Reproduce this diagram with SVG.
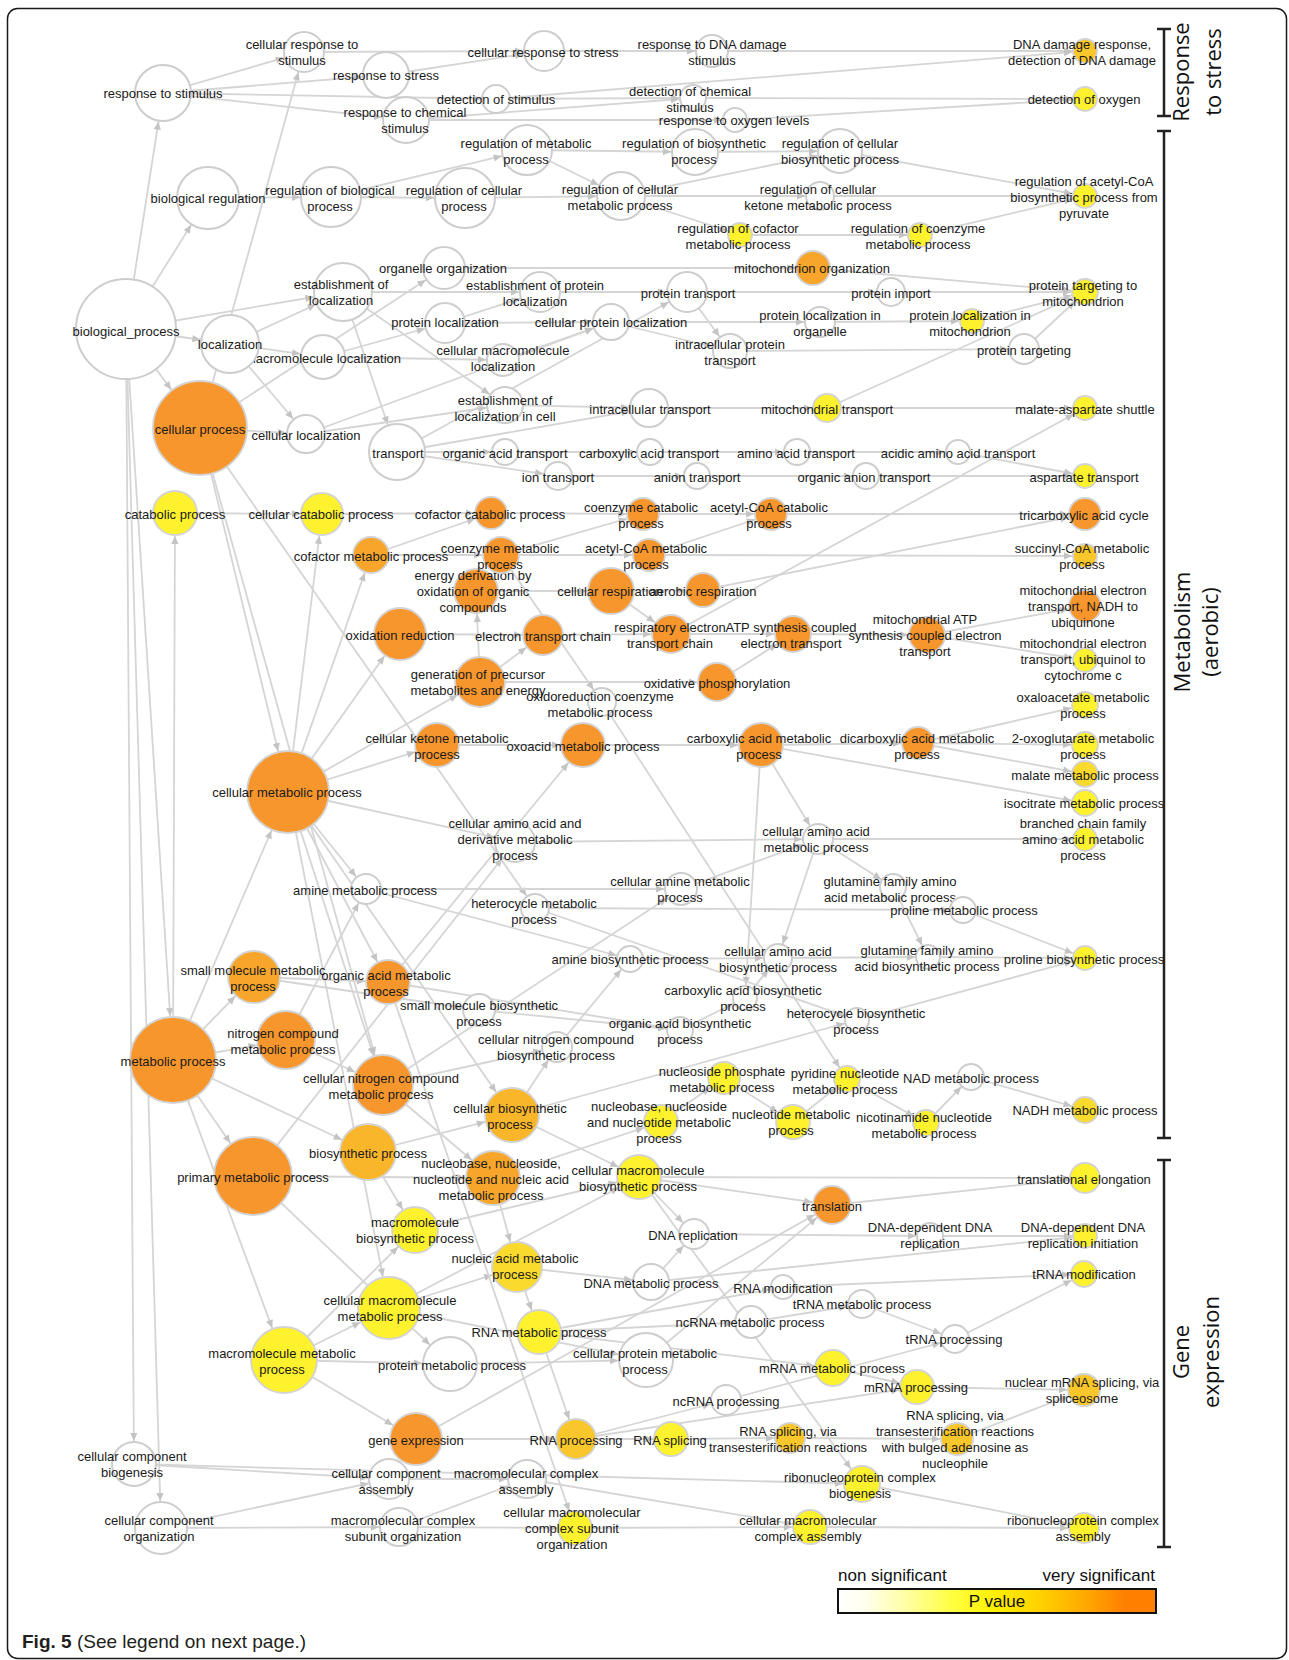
<svg xmlns="http://www.w3.org/2000/svg" width="1289" height="1660" viewBox="0 0 1289 1660">
<style>
.e line{stroke:#d5d5d5;stroke-width:1.8}
.w{fill:#fff;stroke:#cdcdcd;stroke-width:2}
.o,.lo,.g2,.g,.gy,.y{stroke:#d3d3d3;stroke-width:1.8}
.o{fill:#f7962d}.lo{fill:#f8a62b}.g2{fill:#fab62a}.g{fill:#f9c62c}.gy{fill:#fada2c}.y{fill:#fef12e}
text{font-family:'Liberation Sans',Arial,sans-serif;font-size:13px;fill:#1a1a1a;text-anchor:middle}
.br{stroke:#222;stroke-width:2.5;fill:none}
.bt{font-family:'Open Sans','Liberation Sans',sans-serif;font-size:22px;fill:#111}
.lg{font-size:17px;fill:#111}
</style>
<defs>
<path id="ah" d="M-8,-3.6L0,0L-8,3.6z" fill="#c4c4c4"/>
<marker id="a12" markerUnits="userSpaceOnUse" orient="auto" refX="13" refY="0" markerWidth="10" markerHeight="10" overflow="visible"><use href="#ah"/></marker>
<marker id="a13" markerUnits="userSpaceOnUse" orient="auto" refX="14" refY="0" markerWidth="10" markerHeight="10" overflow="visible"><use href="#ah"/></marker>
<marker id="a14" markerUnits="userSpaceOnUse" orient="auto" refX="15" refY="0" markerWidth="10" markerHeight="10" overflow="visible"><use href="#ah"/></marker>
<marker id="a15" markerUnits="userSpaceOnUse" orient="auto" refX="16" refY="0" markerWidth="10" markerHeight="10" overflow="visible"><use href="#ah"/></marker>
<marker id="a16" markerUnits="userSpaceOnUse" orient="auto" refX="17" refY="0" markerWidth="10" markerHeight="10" overflow="visible"><use href="#ah"/></marker>
<marker id="a17" markerUnits="userSpaceOnUse" orient="auto" refX="18" refY="0" markerWidth="10" markerHeight="10" overflow="visible"><use href="#ah"/></marker>
<marker id="a18" markerUnits="userSpaceOnUse" orient="auto" refX="19" refY="0" markerWidth="10" markerHeight="10" overflow="visible"><use href="#ah"/></marker>
<marker id="a19" markerUnits="userSpaceOnUse" orient="auto" refX="20" refY="0" markerWidth="10" markerHeight="10" overflow="visible"><use href="#ah"/></marker>
<marker id="a20" markerUnits="userSpaceOnUse" orient="auto" refX="21" refY="0" markerWidth="10" markerHeight="10" overflow="visible"><use href="#ah"/></marker>
<marker id="a21" markerUnits="userSpaceOnUse" orient="auto" refX="22" refY="0" markerWidth="10" markerHeight="10" overflow="visible"><use href="#ah"/></marker>
<marker id="a22" markerUnits="userSpaceOnUse" orient="auto" refX="23" refY="0" markerWidth="10" markerHeight="10" overflow="visible"><use href="#ah"/></marker>
<marker id="a23" markerUnits="userSpaceOnUse" orient="auto" refX="24" refY="0" markerWidth="10" markerHeight="10" overflow="visible"><use href="#ah"/></marker>
<marker id="a24" markerUnits="userSpaceOnUse" orient="auto" refX="25" refY="0" markerWidth="10" markerHeight="10" overflow="visible"><use href="#ah"/></marker>
<marker id="a25" markerUnits="userSpaceOnUse" orient="auto" refX="26" refY="0" markerWidth="10" markerHeight="10" overflow="visible"><use href="#ah"/></marker>
<marker id="a26" markerUnits="userSpaceOnUse" orient="auto" refX="27" refY="0" markerWidth="10" markerHeight="10" overflow="visible"><use href="#ah"/></marker>
<marker id="a27" markerUnits="userSpaceOnUse" orient="auto" refX="28" refY="0" markerWidth="10" markerHeight="10" overflow="visible"><use href="#ah"/></marker>
<marker id="a28" markerUnits="userSpaceOnUse" orient="auto" refX="29" refY="0" markerWidth="10" markerHeight="10" overflow="visible"><use href="#ah"/></marker>
<marker id="a29" markerUnits="userSpaceOnUse" orient="auto" refX="30" refY="0" markerWidth="10" markerHeight="10" overflow="visible"><use href="#ah"/></marker>
<marker id="a30" markerUnits="userSpaceOnUse" orient="auto" refX="31" refY="0" markerWidth="10" markerHeight="10" overflow="visible"><use href="#ah"/></marker>
<marker id="a31" markerUnits="userSpaceOnUse" orient="auto" refX="32" refY="0" markerWidth="10" markerHeight="10" overflow="visible"><use href="#ah"/></marker>
<marker id="a33" markerUnits="userSpaceOnUse" orient="auto" refX="34" refY="0" markerWidth="10" markerHeight="10" overflow="visible"><use href="#ah"/></marker>
<marker id="a39" markerUnits="userSpaceOnUse" orient="auto" refX="40" refY="0" markerWidth="10" markerHeight="10" overflow="visible"><use href="#ah"/></marker>
<marker id="a41" markerUnits="userSpaceOnUse" orient="auto" refX="42" refY="0" markerWidth="10" markerHeight="10" overflow="visible"><use href="#ah"/></marker>
<marker id="a43" markerUnits="userSpaceOnUse" orient="auto" refX="44" refY="0" markerWidth="10" markerHeight="10" overflow="visible"><use href="#ah"/></marker>
<marker id="a47" markerUnits="userSpaceOnUse" orient="auto" refX="48" refY="0" markerWidth="10" markerHeight="10" overflow="visible"><use href="#ah"/></marker>
<linearGradient id="pv" x1="0" y1="0" x2="1" y2="0">
<stop offset="0" stop-color="#ffffff"/><stop offset="0.08" stop-color="#fffff0"/><stop offset="0.22" stop-color="#ffffa0"/><stop offset="0.36" stop-color="#ffff40"/><stop offset="0.5" stop-color="#ffee00"/><stop offset="0.64" stop-color="#ffd000"/><stop offset="0.79" stop-color="#ffa500"/><stop offset="0.9" stop-color="#ff8000"/><stop offset="1" stop-color="#ff7f00"/>
</linearGradient>
</defs>
<rect x="7.5" y="8.5" width="1279" height="1650" rx="10" fill="#fff" stroke="#1a1a1a" stroke-width="1.5"/>
<g id="edges" class="e">
<line x1="163" y1="93" x2="304" y2="52" marker-end="url(#a20)"/>
<line x1="163" y1="93" x2="386" y2="75" marker-end="url(#a23)"/>
<line x1="163" y1="93" x2="496" y2="99" marker-end="url(#a14)"/>
<line x1="163" y1="93" x2="406" y2="120" marker-end="url(#a23)"/>
<line x1="304" y1="52" x2="544" y2="51" marker-end="url(#a20)"/>
<line x1="386" y1="75" x2="544" y2="51" marker-end="url(#a20)"/>
<line x1="544" y1="51" x2="712" y2="51" marker-end="url(#a16)"/>
<line x1="712" y1="51" x2="1085" y2="51" marker-end="url(#a12)"/>
<line x1="496" y1="99" x2="1085" y2="51" marker-end="url(#a12)"/>
<line x1="496" y1="99" x2="693" y2="98" marker-end="url(#a13)"/>
<line x1="406" y1="120" x2="693" y2="98" marker-end="url(#a13)"/>
<line x1="406" y1="120" x2="735" y2="120" marker-end="url(#a12)"/>
<line x1="693" y1="98" x2="1085" y2="99" marker-end="url(#a12)"/>
<line x1="735" y1="120" x2="1085" y2="99" marker-end="url(#a12)"/>
<line x1="126" y1="329" x2="208" y2="198" marker-end="url(#a31)"/>
<line x1="208" y1="198" x2="331" y2="197" marker-end="url(#a30)"/>
<line x1="331" y1="197" x2="465" y2="198" marker-end="url(#a30)"/>
<line x1="331" y1="197" x2="527" y2="150" marker-end="url(#a25)"/>
<line x1="465" y1="198" x2="621" y2="196" marker-end="url(#a24)"/>
<line x1="527" y1="150" x2="621" y2="196" marker-end="url(#a24)"/>
<line x1="527" y1="150" x2="695" y2="152" marker-end="url(#a23)"/>
<line x1="695" y1="152" x2="840" y2="151" marker-end="url(#a22)"/>
<line x1="621" y1="196" x2="840" y2="151" marker-end="url(#a22)"/>
<line x1="621" y1="196" x2="820" y2="196" marker-end="url(#a14)"/>
<line x1="621" y1="196" x2="740" y2="235" marker-end="url(#a12)"/>
<line x1="840" y1="151" x2="1085" y2="196" marker-end="url(#a12)"/>
<line x1="820" y1="196" x2="1085" y2="196" marker-end="url(#a12)"/>
<line x1="740" y1="235" x2="920" y2="235" marker-end="url(#a12)"/>
<line x1="920" y1="235" x2="1085" y2="196" marker-end="url(#a12)"/>
<line x1="126" y1="329" x2="163" y2="93" marker-end="url(#a28)"/>
<line x1="126" y1="329" x2="343" y2="292" marker-end="url(#a29)"/>
<line x1="126" y1="329" x2="230" y2="344" marker-end="url(#a29)"/>
<line x1="126" y1="329" x2="200" y2="428" marker-end="url(#a47)"/>
<line x1="126" y1="329" x2="173" y2="1060" marker-end="url(#a43)"/>
<line x1="126" y1="329" x2="134" y2="1464" marker-end="url(#a22)"/>
<line x1="126" y1="329" x2="161" y2="1528" marker-end="url(#a26)"/>
<line x1="230" y1="344" x2="343" y2="292" marker-end="url(#a29)"/>
<line x1="230" y1="344" x2="323" y2="357" marker-end="url(#a22)"/>
<line x1="230" y1="344" x2="306" y2="434" marker-end="url(#a19)"/>
<line x1="200" y1="428" x2="444" y2="268" marker-end="url(#a21)"/>
<line x1="200" y1="428" x2="304" y2="52" marker-end="url(#a20)"/>
<line x1="200" y1="428" x2="306" y2="434" marker-end="url(#a19)"/>
<line x1="343" y1="292" x2="540" y2="292" marker-end="url(#a20)"/>
<line x1="343" y1="292" x2="397" y2="452" marker-end="url(#a28)"/>
<line x1="343" y1="292" x2="505" y2="405" marker-end="url(#a18)"/>
<line x1="323" y1="357" x2="445" y2="323" marker-end="url(#a20)"/>
<line x1="323" y1="357" x2="503" y2="360" marker-end="url(#a16)"/>
<line x1="445" y1="323" x2="611" y2="322" marker-end="url(#a18)"/>
<line x1="445" y1="323" x2="540" y2="292" marker-end="url(#a20)"/>
<line x1="540" y1="292" x2="687" y2="292" marker-end="url(#a20)"/>
<line x1="687" y1="292" x2="891" y2="292" marker-end="url(#a14)"/>
<line x1="891" y1="292" x2="1085" y2="292" marker-end="url(#a13)"/>
<line x1="444" y1="268" x2="813" y2="268" marker-end="url(#a17)"/>
<line x1="813" y1="268" x2="1085" y2="292" marker-end="url(#a13)"/>
<line x1="503" y1="360" x2="611" y2="322" marker-end="url(#a18)"/>
<line x1="306" y1="434" x2="611" y2="322" marker-end="url(#a18)"/>
<line x1="611" y1="322" x2="730" y2="351" marker-end="url(#a17)"/>
<line x1="687" y1="292" x2="730" y2="351" marker-end="url(#a17)"/>
<line x1="611" y1="322" x2="820" y2="322" marker-end="url(#a15)"/>
<line x1="820" y1="322" x2="972" y2="321" marker-end="url(#a12)"/>
<line x1="972" y1="321" x2="1085" y2="292" marker-end="url(#a13)"/>
<line x1="730" y1="351" x2="1024" y2="349" marker-end="url(#a15)"/>
<line x1="1024" y1="349" x2="1085" y2="292" marker-end="url(#a13)"/>
<line x1="306" y1="434" x2="505" y2="405" marker-end="url(#a18)"/>
<line x1="505" y1="405" x2="649" y2="408" marker-end="url(#a19)"/>
<line x1="397" y1="452" x2="649" y2="408" marker-end="url(#a19)"/>
<line x1="649" y1="408" x2="827" y2="408" marker-end="url(#a14)"/>
<line x1="827" y1="408" x2="1085" y2="408" marker-end="url(#a12)"/>
<line x1="827" y1="408" x2="1085" y2="292" marker-end="url(#a13)"/>
<line x1="397" y1="452" x2="687" y2="292" marker-end="url(#a20)"/>
<line x1="397" y1="452" x2="505" y2="452" marker-end="url(#a13)"/>
<line x1="505" y1="452" x2="650" y2="452" marker-end="url(#a13)"/>
<line x1="650" y1="452" x2="797" y2="452" marker-end="url(#a13)"/>
<line x1="797" y1="452" x2="958" y2="452" marker-end="url(#a12)"/>
<line x1="958" y1="452" x2="1085" y2="476" marker-end="url(#a12)"/>
<line x1="397" y1="452" x2="558" y2="476" marker-end="url(#a14)"/>
<line x1="558" y1="476" x2="697" y2="476" marker-end="url(#a13)"/>
<line x1="697" y1="476" x2="866" y2="476" marker-end="url(#a13)"/>
<line x1="866" y1="476" x2="1085" y2="476" marker-end="url(#a12)"/>
<line x1="173" y1="1060" x2="175" y2="513" marker-end="url(#a22)"/>
<line x1="175" y1="513" x2="322" y2="514" marker-end="url(#a21)"/>
<line x1="288" y1="792" x2="322" y2="514" marker-end="url(#a21)"/>
<line x1="322" y1="514" x2="491" y2="513" marker-end="url(#a16)"/>
<line x1="371" y1="555" x2="491" y2="513" marker-end="url(#a16)"/>
<line x1="491" y1="513" x2="643" y2="514" marker-end="url(#a16)"/>
<line x1="643" y1="514" x2="771" y2="514" marker-end="url(#a16)"/>
<line x1="771" y1="514" x2="1085" y2="514" marker-end="url(#a16)"/>
<line x1="288" y1="792" x2="371" y2="555" marker-end="url(#a18)"/>
<line x1="371" y1="555" x2="501" y2="555" marker-end="url(#a18)"/>
<line x1="501" y1="555" x2="643" y2="514" marker-end="url(#a16)"/>
<line x1="501" y1="555" x2="649" y2="555" marker-end="url(#a16)"/>
<line x1="649" y1="555" x2="771" y2="514" marker-end="url(#a16)"/>
<line x1="649" y1="555" x2="1085" y2="556" marker-end="url(#a12)"/>
<line x1="288" y1="792" x2="400" y2="634" marker-end="url(#a26)"/>
<line x1="288" y1="792" x2="437" y2="745" marker-end="url(#a22)"/>
<line x1="288" y1="792" x2="480" y2="682" marker-end="url(#a25)"/>
<line x1="480" y1="682" x2="476" y2="591" marker-end="url(#a22)"/>
<line x1="480" y1="682" x2="543" y2="635" marker-end="url(#a20)"/>
<line x1="480" y1="682" x2="717" y2="682" marker-end="url(#a19)"/>
<line x1="476" y1="591" x2="611" y2="591" marker-end="url(#a23)"/>
<line x1="611" y1="591" x2="703" y2="590" marker-end="url(#a17)"/>
<line x1="611" y1="591" x2="671" y2="634" marker-end="url(#a19)"/>
<line x1="400" y1="634" x2="543" y2="635" marker-end="url(#a20)"/>
<line x1="543" y1="635" x2="671" y2="634" marker-end="url(#a19)"/>
<line x1="671" y1="634" x2="793" y2="634" marker-end="url(#a18)"/>
<line x1="793" y1="634" x2="927" y2="635" marker-end="url(#a18)"/>
<line x1="717" y1="682" x2="793" y2="634" marker-end="url(#a18)"/>
<line x1="927" y1="635" x2="1085" y2="606" marker-end="url(#a16)"/>
<line x1="927" y1="635" x2="1085" y2="660" marker-end="url(#a12)"/>
<line x1="703" y1="590" x2="1085" y2="514" marker-end="url(#a16)"/>
<line x1="671" y1="634" x2="1085" y2="408" marker-end="url(#a12)"/>
<line x1="501" y1="555" x2="602" y2="702" marker-end="url(#a14)"/>
<line x1="602" y1="702" x2="847" y2="1079" marker-end="url(#a13)"/>
<line x1="437" y1="745" x2="583" y2="745" marker-end="url(#a22)"/>
<line x1="583" y1="745" x2="761" y2="745" marker-end="url(#a22)"/>
<line x1="761" y1="745" x2="918" y2="743" marker-end="url(#a16)"/>
<line x1="918" y1="743" x2="1085" y2="705" marker-end="url(#a13)"/>
<line x1="918" y1="743" x2="1085" y2="745" marker-end="url(#a13)"/>
<line x1="918" y1="743" x2="1085" y2="774" marker-end="url(#a13)"/>
<line x1="761" y1="745" x2="1085" y2="803" marker-end="url(#a13)"/>
<line x1="761" y1="745" x2="818" y2="839" marker-end="url(#a15)"/>
<line x1="761" y1="745" x2="745" y2="998" marker-end="url(#a12)"/>
<line x1="388" y1="982" x2="583" y2="745" marker-end="url(#a22)"/>
<line x1="173" y1="1060" x2="254" y2="977" marker-end="url(#a26)"/>
<line x1="173" y1="1060" x2="286" y2="1040" marker-end="url(#a29)"/>
<line x1="173" y1="1060" x2="253" y2="1176" marker-end="url(#a39)"/>
<line x1="173" y1="1060" x2="368" y2="1152" marker-end="url(#a28)"/>
<line x1="173" y1="1060" x2="288" y2="792" marker-end="url(#a41)"/>
<line x1="173" y1="1060" x2="284" y2="1360" marker-end="url(#a33)"/>
<line x1="288" y1="792" x2="388" y2="982" marker-end="url(#a22)"/>
<line x1="288" y1="792" x2="383" y2="1085" marker-end="url(#a30)"/>
<line x1="288" y1="792" x2="366" y2="889" marker-end="url(#a15)"/>
<line x1="288" y1="792" x2="515" y2="842" marker-end="url(#a20)"/>
<line x1="288" y1="792" x2="512" y2="1115" marker-end="url(#a27)"/>
<line x1="288" y1="792" x2="389" y2="1308" marker-end="url(#a31)"/>
<line x1="200" y1="428" x2="288" y2="792" marker-end="url(#a41)"/>
<line x1="200" y1="428" x2="383" y2="1085" marker-end="url(#a30)"/>
<line x1="200" y1="428" x2="535" y2="908" marker-end="url(#a14)"/>
<line x1="286" y1="1040" x2="366" y2="889" marker-end="url(#a15)"/>
<line x1="286" y1="1040" x2="383" y2="1085" marker-end="url(#a30)"/>
<line x1="366" y1="889" x2="681" y2="889" marker-end="url(#a16)"/>
<line x1="366" y1="889" x2="630" y2="959" marker-end="url(#a13)"/>
<line x1="681" y1="889" x2="818" y2="839" marker-end="url(#a15)"/>
<line x1="515" y1="842" x2="818" y2="839" marker-end="url(#a15)"/>
<line x1="818" y1="839" x2="1085" y2="839" marker-end="url(#a12)"/>
<line x1="818" y1="839" x2="893" y2="887" marker-end="url(#a13)"/>
<line x1="818" y1="839" x2="778" y2="958" marker-end="url(#a14)"/>
<line x1="535" y1="908" x2="963" y2="910" marker-end="url(#a13)"/>
<line x1="893" y1="887" x2="928" y2="957" marker-end="url(#a12)"/>
<line x1="963" y1="910" x2="1085" y2="958" marker-end="url(#a12)"/>
<line x1="928" y1="957" x2="1085" y2="958" marker-end="url(#a12)"/>
<line x1="778" y1="958" x2="928" y2="957" marker-end="url(#a12)"/>
<line x1="630" y1="959" x2="778" y2="958" marker-end="url(#a14)"/>
<line x1="535" y1="908" x2="857" y2="1020" marker-end="url(#a12)"/>
<line x1="857" y1="1020" x2="1085" y2="958" marker-end="url(#a12)"/>
<line x1="512" y1="1115" x2="857" y2="1020" marker-end="url(#a12)"/>
<line x1="254" y1="977" x2="388" y2="982" marker-end="url(#a22)"/>
<line x1="254" y1="977" x2="479" y2="1010" marker-end="url(#a16)"/>
<line x1="479" y1="1010" x2="680" y2="1030" marker-end="url(#a13)"/>
<line x1="388" y1="982" x2="680" y2="1030" marker-end="url(#a13)"/>
<line x1="680" y1="1030" x2="745" y2="998" marker-end="url(#a12)"/>
<line x1="745" y1="998" x2="778" y2="958" marker-end="url(#a14)"/>
<line x1="512" y1="1115" x2="557" y2="1047" marker-end="url(#a15)"/>
<line x1="383" y1="1085" x2="557" y2="1047" marker-end="url(#a15)"/>
<line x1="557" y1="1047" x2="630" y2="959" marker-end="url(#a13)"/>
<line x1="368" y1="1152" x2="512" y2="1115" marker-end="url(#a27)"/>
<line x1="368" y1="1152" x2="415" y2="1230" marker-end="url(#a23)"/>
<line x1="253" y1="1176" x2="493" y2="1178" marker-end="url(#a27)"/>
<line x1="253" y1="1176" x2="450" y2="1364" marker-end="url(#a27)"/>
<line x1="253" y1="1176" x2="515" y2="842" marker-end="url(#a20)"/>
<line x1="383" y1="1085" x2="493" y2="1178" marker-end="url(#a27)"/>
<line x1="383" y1="1085" x2="681" y2="889" marker-end="url(#a16)"/>
<line x1="493" y1="1178" x2="661" y2="1122" marker-end="url(#a17)"/>
<line x1="661" y1="1122" x2="724" y2="1078" marker-end="url(#a16)"/>
<line x1="724" y1="1078" x2="793" y2="1122" marker-end="url(#a17)"/>
<line x1="793" y1="1122" x2="847" y2="1079" marker-end="url(#a13)"/>
<line x1="847" y1="1079" x2="926" y2="1123" marker-end="url(#a13)"/>
<line x1="926" y1="1123" x2="971" y2="1077" marker-end="url(#a13)"/>
<line x1="971" y1="1077" x2="1085" y2="1110" marker-end="url(#a13)"/>
<line x1="512" y1="1115" x2="639" y2="1177" marker-end="url(#a22)"/>
<line x1="415" y1="1230" x2="639" y2="1177" marker-end="url(#a22)"/>
<line x1="389" y1="1308" x2="639" y2="1177" marker-end="url(#a22)"/>
<line x1="639" y1="1177" x2="832" y2="1205" marker-end="url(#a19)"/>
<line x1="639" y1="1177" x2="1085" y2="1178" marker-end="url(#a15)"/>
<line x1="832" y1="1205" x2="1085" y2="1178" marker-end="url(#a15)"/>
<line x1="646" y1="1360" x2="832" y2="1205" marker-end="url(#a19)"/>
<line x1="416" y1="1439" x2="832" y2="1205" marker-end="url(#a19)"/>
<line x1="639" y1="1177" x2="694" y2="1234" marker-end="url(#a15)"/>
<line x1="651" y1="1282" x2="694" y2="1234" marker-end="url(#a15)"/>
<line x1="694" y1="1234" x2="930" y2="1236" marker-end="url(#a13)"/>
<line x1="930" y1="1236" x2="1085" y2="1236" marker-end="url(#a12)"/>
<line x1="651" y1="1282" x2="1085" y2="1236" marker-end="url(#a12)"/>
<line x1="493" y1="1178" x2="517" y2="1267" marker-end="url(#a25)"/>
<line x1="389" y1="1308" x2="517" y2="1267" marker-end="url(#a25)"/>
<line x1="517" y1="1267" x2="651" y2="1282" marker-end="url(#a18)"/>
<line x1="517" y1="1267" x2="539" y2="1332" marker-end="url(#a22)"/>
<line x1="539" y1="1332" x2="783" y2="1287" marker-end="url(#a12)"/>
<line x1="783" y1="1287" x2="1084" y2="1274" marker-end="url(#a13)"/>
<line x1="539" y1="1332" x2="751" y2="1322" marker-end="url(#a16)"/>
<line x1="751" y1="1322" x2="862" y2="1304" marker-end="url(#a14)"/>
<line x1="862" y1="1304" x2="955" y2="1339" marker-end="url(#a14)"/>
<line x1="955" y1="1339" x2="1084" y2="1274" marker-end="url(#a13)"/>
<line x1="726" y1="1400" x2="955" y2="1339" marker-end="url(#a14)"/>
<line x1="284" y1="1360" x2="389" y2="1308" marker-end="url(#a31)"/>
<line x1="284" y1="1360" x2="415" y2="1230" marker-end="url(#a23)"/>
<line x1="284" y1="1360" x2="450" y2="1364" marker-end="url(#a27)"/>
<line x1="284" y1="1360" x2="416" y2="1439" marker-end="url(#a26)"/>
<line x1="389" y1="1308" x2="646" y2="1360" marker-end="url(#a27)"/>
<line x1="450" y1="1364" x2="646" y2="1360" marker-end="url(#a27)"/>
<line x1="539" y1="1332" x2="833" y2="1368" marker-end="url(#a18)"/>
<line x1="539" y1="1332" x2="576" y2="1439" marker-end="url(#a20)"/>
<line x1="833" y1="1368" x2="917" y2="1387" marker-end="url(#a17)"/>
<line x1="917" y1="1387" x2="1084" y2="1390" marker-end="url(#a16)"/>
<line x1="957" y1="1439" x2="1084" y2="1390" marker-end="url(#a16)"/>
<line x1="576" y1="1439" x2="917" y2="1387" marker-end="url(#a17)"/>
<line x1="576" y1="1439" x2="726" y2="1400" marker-end="url(#a15)"/>
<line x1="416" y1="1439" x2="576" y2="1439" marker-end="url(#a20)"/>
<line x1="576" y1="1439" x2="671" y2="1439" marker-end="url(#a17)"/>
<line x1="671" y1="1439" x2="790" y2="1438" marker-end="url(#a15)"/>
<line x1="790" y1="1438" x2="957" y2="1439" marker-end="url(#a16)"/>
<line x1="134" y1="1464" x2="389" y2="1479" marker-end="url(#a20)"/>
<line x1="134" y1="1464" x2="862" y2="1484" marker-end="url(#a18)"/>
<line x1="161" y1="1528" x2="389" y2="1479" marker-end="url(#a20)"/>
<line x1="161" y1="1528" x2="399" y2="1527" marker-end="url(#a19)"/>
<line x1="389" y1="1479" x2="527" y2="1479" marker-end="url(#a19)"/>
<line x1="399" y1="1527" x2="527" y2="1479" marker-end="url(#a19)"/>
<line x1="527" y1="1479" x2="810" y2="1527" marker-end="url(#a17)"/>
<line x1="399" y1="1527" x2="575" y2="1528" marker-end="url(#a17)"/>
<line x1="575" y1="1528" x2="810" y2="1527" marker-end="url(#a17)"/>
<line x1="810" y1="1527" x2="1084" y2="1528" marker-end="url(#a15)"/>
<line x1="862" y1="1484" x2="1084" y2="1528" marker-end="url(#a15)"/>
<line x1="639" y1="1177" x2="862" y2="1484" marker-end="url(#a18)"/>
<line x1="388" y1="982" x2="575" y2="1528" marker-end="url(#a17)"/>
</g>
<g id="n-rs"><circle class="w" cx="163" cy="93" r="28"/><text x="163" y="97.5">response to stimulus</text></g>
<g id="n-crs"><circle class="w" cx="304" cy="52" r="20"/><text x="302" y="48.5">cellular response to<tspan x="302" dy="16">stimulus</tspan></text></g>
<g id="n-rst"><circle class="w" cx="386" cy="75" r="23"/><text x="386" y="79.5">response to stress</text></g>
<g id="n-rcs"><circle class="w" cx="406" cy="120" r="23"/><text x="405" y="116.5">response to chemical<tspan x="405" dy="16">stimulus</tspan></text></g>
<g id="n-crst"><circle class="w" cx="544" cy="51" r="20"/><text x="543" y="56.5">cellular response to stress</text></g>
<g id="n-rdna"><circle class="w" cx="712" cy="51" r="16"/><text x="712" y="48.5">response to DNA damage<tspan x="712" dy="16">stimulus</tspan></text></g>
<g id="n-ds"><circle class="w" cx="496" cy="99" r="14"/><text x="496" y="103.5">detection of stimulus</text></g>
<g id="n-dcs"><circle class="w" cx="693" cy="98" r="13"/><text x="690" y="95.5">detection of chemical<tspan x="690" dy="16">stimulus</tspan></text></g>
<g id="n-rox"><circle class="w" cx="735" cy="120" r="12"/><text x="734" y="124.5">response to oxygen levels</text></g>
<g id="n-dnad"><circle class="g" cx="1085" cy="51" r="12"/><text x="1082" y="48.5">DNA damage response,<tspan x="1082" dy="16">detection of DNA damage</tspan></text></g>
<g id="n-dox"><circle class="y" cx="1085" cy="99" r="12"/><text x="1084" y="103.5">detection of oxygen</text></g>
<g id="n-br"><circle class="w" cx="208" cy="198" r="31"/><text x="208" y="202.5">biological regulation</text></g>
<g id="n-rbp"><circle class="w" cx="331" cy="197" r="30"/><text x="330" y="194.5">regulation of biological<tspan x="330" dy="16">process</tspan></text></g>
<g id="n-rcp"><circle class="w" cx="465" cy="198" r="30"/><text x="464" y="194.5">regulation of cellular<tspan x="464" dy="16">process</tspan></text></g>
<g id="n-rmp"><circle class="w" cx="527" cy="150" r="25"/><text x="526" y="147.5">regulation of metabolic<tspan x="526" dy="16">process</tspan></text></g>
<g id="n-rbsp"><circle class="w" cx="695" cy="152" r="23"/><text x="694" y="147.5">regulation of biosynthetic<tspan x="694" dy="16">process</tspan></text></g>
<g id="n-rcbp"><circle class="w" cx="840" cy="151" r="22"/><text x="840" y="147.5">regulation of cellular<tspan x="840" dy="16">biosynthetic process</tspan></text></g>
<g id="n-rcmp"><circle class="w" cx="621" cy="196" r="24"/><text x="620" y="193.5">regulation of cellular<tspan x="620" dy="16">metabolic process</tspan></text></g>
<g id="n-rckp"><circle class="w" cx="820" cy="196" r="14"/><text x="818" y="193.5">regulation of cellular<tspan x="818" dy="16">ketone metabolic process</tspan></text></g>
<g id="n-rcof"><circle class="y" cx="740" cy="235" r="12"/><text x="738" y="232.5">regulation of cofactor<tspan x="738" dy="16">metabolic process</tspan></text></g>
<g id="n-rcoe"><circle class="y" cx="920" cy="235" r="12"/><text x="918" y="232.5">regulation of coenzyme<tspan x="918" dy="16">metabolic process</tspan></text></g>
<g id="n-racp"><circle class="y" cx="1085" cy="196" r="12"/><text x="1084" y="185.5">regulation of acetyl-CoA<tspan x="1084" dy="16">biosynthetic process from</tspan><tspan x="1084" dy="16">pyruvate</tspan></text></g>
<g id="n-bp"><circle class="w" cx="126" cy="329" r="50"/><text x="126" y="335.5">biological_process</text></g>
<g id="n-ml"><circle class="w" cx="323" cy="357" r="22"/><text x="323" y="362.5">macromolecule localization</text></g>
<g id="n-loc"><circle class="w" cx="230" cy="344" r="29"/><text x="230" y="348.5">localization</text></g>
<g id="n-el"><circle class="w" cx="343" cy="292" r="29"/><text x="341" y="288.5">establishment of<tspan x="341" dy="16">localization</tspan></text></g>
<g id="n-oo"><circle class="w" cx="444" cy="268" r="21"/><text x="443" y="272.5">organelle organization</text></g>
<g id="n-epl"><circle class="w" cx="540" cy="292" r="20"/><text x="535" y="289.5">establishment of protein<tspan x="535" dy="16">localization</tspan></text></g>
<g id="n-pl"><circle class="w" cx="445" cy="323" r="20"/><text x="445" y="326.5">protein localization</text></g>
<g id="n-cml"><circle class="w" cx="503" cy="360" r="16"/><text x="503" y="354.5">cellular macromolecule<tspan x="503" dy="16">localization</tspan></text></g>
<g id="n-cpl"><circle class="w" cx="611" cy="322" r="18"/><text x="611" y="326.5">cellular protein localization</text></g>
<g id="n-pt"><circle class="w" cx="687" cy="292" r="20"/><text x="688" y="297.5">protein transport</text></g>
<g id="n-mo"><circle class="lo" cx="813" cy="268" r="17"/><text x="812" y="272.5">mitochondrion organization</text></g>
<g id="n-pi"><circle class="w" cx="891" cy="292" r="14"/><text x="891" y="297.5">protein import</text></g>
<g id="n-ptm"><circle class="y" cx="1085" cy="292" r="13"/><text x="1083" y="289.5">protein targeting to<tspan x="1083" dy="16">mitochondrion</tspan></text></g>
<g id="n-plo"><circle class="w" cx="820" cy="322" r="15"/><text x="820" y="319.5">protein localization in<tspan x="820" dy="16">organelle</tspan></text></g>
<g id="n-plm"><circle class="y" cx="972" cy="321" r="12"/><text x="970" y="319.5">protein localization in<tspan x="970" dy="16">mitochondrion</tspan></text></g>
<g id="n-ptg"><circle class="w" cx="1024" cy="349" r="15"/><text x="1024" y="354.5">protein targeting</text></g>
<g id="n-ipt"><circle class="w" cx="730" cy="351" r="17"/><text x="730" y="348.5">intracellular protein<tspan x="730" dy="16">transport</tspan></text></g>
<g id="n-elc"><circle class="w" cx="505" cy="405" r="18"/><text x="505" y="404.5">establishment of<tspan x="505" dy="16">localization in cell</tspan></text></g>
<g id="n-it"><circle class="w" cx="649" cy="408" r="19"/><text x="650" y="413.5">intracellular transport</text></g>
<g id="n-mt"><circle class="y" cx="827" cy="408" r="14"/><text x="827" y="413.5">mitochondrial transport</text></g>
<g id="n-mas"><circle class="y" cx="1085" cy="408" r="12"/><text x="1085" y="413.5">malate-aspartate shuttle</text></g>
<g id="n-cl"><circle class="w" cx="306" cy="434" r="19"/><text x="306" y="439.5">cellular localization</text></g>
<g id="n-tr"><circle class="w" cx="397" cy="452" r="28"/><text x="398" y="457.5">transport</text></g>
<g id="n-cp"><circle class="o" cx="200" cy="428" r="47"/><text x="200" y="433.5">cellular process</text></g>
<g id="n-oat"><circle class="w" cx="505" cy="452" r="13"/><text x="505" y="457.5">organic acid transport</text></g>
<g id="n-cat"><circle class="w" cx="650" cy="452" r="13"/><text x="649" y="457.5">carboxylic acid transport</text></g>
<g id="n-aat"><circle class="w" cx="797" cy="452" r="13"/><text x="796" y="457.5">amino acid transport</text></g>
<g id="n-aaat"><circle class="w" cx="958" cy="452" r="12"/><text x="958" y="457.5">acidic amino acid transport</text></g>
<g id="n-ion"><circle class="w" cx="558" cy="476" r="14"/><text x="558" y="481.5">ion transport</text></g>
<g id="n-ant"><circle class="w" cx="697" cy="476" r="13"/><text x="697" y="481.5">anion transport</text></g>
<g id="n-oant"><circle class="w" cx="866" cy="476" r="13"/><text x="864" y="481.5">organic anion transport</text></g>
<g id="n-asp"><circle class="y" cx="1085" cy="476" r="12"/><text x="1084" y="481.5">aspartate transport</text></g>
<g id="n-cat2"><circle class="y" cx="175" cy="513" r="22"/><text x="175" y="518.5">catabolic process</text></g>
<g id="n-ccat"><circle class="y" cx="322" cy="514" r="21"/><text x="321" y="518.5">cellular catabolic process</text></g>
<g id="n-cofm"><circle class="lo" cx="371" cy="555" r="18"/><text x="371" y="560.5">cofactor metabolic process</text></g>
<g id="n-cofc"><circle class="o" cx="491" cy="513" r="16"/><text x="490" y="518.5">cofactor catabolic process</text></g>
<g id="n-coec"><circle class="o" cx="643" cy="514" r="16"/><text x="641" y="511.5">coenzyme catabolic<tspan x="641" dy="16">process</tspan></text></g>
<g id="n-acc"><circle class="o" cx="771" cy="514" r="16"/><text x="769" y="511.5">acetyl-CoA catabolic<tspan x="769" dy="16">process</tspan></text></g>
<g id="n-tca"><circle class="o" cx="1085" cy="514" r="16"/><text x="1084" y="519.5">tricarboxylic acid cycle</text></g>
<g id="n-ed"><circle class="o" cx="476" cy="591" r="22"/><text x="473" y="579.5">energy derivation by<tspan x="473" dy="16">oxidation of organic</tspan><tspan x="473" dy="16">compounds</tspan></text></g>
<g id="n-coem"><circle class="o" cx="501" cy="555" r="18"/><text x="500" y="552.5">coenzyme metabolic<tspan x="500" dy="16">process</tspan></text></g>
<g id="n-acm"><circle class="o" cx="649" cy="555" r="16"/><text x="646" y="552.5">acetyl-CoA metabolic<tspan x="646" dy="16">process</tspan></text></g>
<g id="n-scm"><circle class="g" cx="1085" cy="556" r="12"/><text x="1082" y="552.5">succinyl-CoA metabolic<tspan x="1082" dy="16">process</tspan></text></g>
<g id="n-cr"><circle class="o" cx="611" cy="591" r="23"/><text x="610" y="595.5">cellular respiration</text></g>
<g id="n-ar"><circle class="o" cx="703" cy="590" r="17"/><text x="703" y="595.5">aerobic respiration</text></g>
<g id="n-orr"><circle class="o" cx="400" cy="634" r="26"/><text x="400" y="639.5">oxidation reduction</text></g>
<g id="n-etc"><circle class="o" cx="543" cy="635" r="20"/><text x="543" y="640.5">electron transport chain</text></g>
<g id="n-retc"><circle class="o" cx="671" cy="634" r="19"/><text x="670" y="631.5">respiratory electron<tspan x="670" dy="16">transport chain</tspan></text></g>
<g id="n-atp"><circle class="o" cx="793" cy="634" r="18"/><text x="791" y="631.5">ATP synthesis coupled<tspan x="791" dy="16">electron transport</tspan></text></g>
<g id="n-matp"><circle class="o" cx="927" cy="635" r="18"/><text x="925" y="623.5">mitochondrial ATP<tspan x="925" dy="16">synthesis coupled electron</tspan><tspan x="925" dy="16">transport</tspan></text></g>
<g id="n-nadh"><circle class="o" cx="1085" cy="606" r="16"/><text x="1083" y="594.5">mitochondrial electron<tspan x="1083" dy="16">transport, NADH to</tspan><tspan x="1083" dy="16">ubiquinone</tspan></text></g>
<g id="n-ubq"><circle class="y" cx="1085" cy="660" r="12"/><text x="1083" y="647.5">mitochondrial electron<tspan x="1083" dy="16">transport, ubiquinol to</tspan><tspan x="1083" dy="16">cytochrome c</tspan></text></g>
<g id="n-gp"><circle class="o" cx="480" cy="682" r="25"/><text x="478" y="678.5">generation of precursor<tspan x="478" dy="16">metabolites and energy</tspan></text></g>
<g id="n-op"><circle class="o" cx="717" cy="682" r="19"/><text x="717" y="687.5">oxidative phosphorylation</text></g>
<g id="n-ocm"><circle class="w" cx="602" cy="702" r="14"/><text x="600" y="700.5">oxidoreduction coenzyme<tspan x="600" dy="16">metabolic process</tspan></text></g>
<g id="n-ckm"><circle class="o" cx="437" cy="745" r="22"/><text x="437" y="742.5">cellular ketone metabolic<tspan x="437" dy="16">process</tspan></text></g>
<g id="n-oxm"><circle class="o" cx="583" cy="745" r="22"/><text x="583" y="750.5">oxoacid metabolic process</text></g>
<g id="n-cam"><circle class="o" cx="761" cy="745" r="22"/><text x="759" y="742.5">carboxylic acid metabolic<tspan x="759" dy="16">process</tspan></text></g>
<g id="n-dcm"><circle class="o" cx="918" cy="743" r="16"/><text x="917" y="742.5">dicarboxylic acid metabolic<tspan x="917" dy="16">process</tspan></text></g>
<g id="n-oaa"><circle class="y" cx="1085" cy="705" r="13"/><text x="1083" y="701.5">oxaloacetate metabolic<tspan x="1083" dy="16">process</tspan></text></g>
<g id="n-ogm"><circle class="y" cx="1085" cy="745" r="13"/><text x="1083" y="742.5">2-oxoglutarate metabolic<tspan x="1083" dy="16">process</tspan></text></g>
<g id="n-mam"><circle class="gy" cx="1085" cy="774" r="13"/><text x="1085" y="779.5">malate metabolic process</text></g>
<g id="n-icm"><circle class="y" cx="1085" cy="803" r="13"/><text x="1084" y="807.5">isocitrate metabolic process</text></g>
<g id="n-cmp"><circle class="o" cx="288" cy="792" r="41"/><text x="287" y="796.5">cellular metabolic process</text></g>
<g id="n-caad"><circle class="w" cx="515" cy="842" r="20"/><text x="515" y="827.5">cellular amino acid and<tspan x="515" dy="16">derivative metabolic</tspan><tspan x="515" dy="16">process</tspan></text></g>
<g id="n-caam"><circle class="w" cx="818" cy="839" r="15"/><text x="816" y="835.5">cellular amino acid<tspan x="816" dy="16">metabolic process</tspan></text></g>
<g id="n-bcaa"><circle class="y" cx="1085" cy="839" r="12"/><text x="1083" y="827.5">branched chain family<tspan x="1083" dy="16">amino acid metabolic</tspan><tspan x="1083" dy="16">process</tspan></text></g>
<g id="n-amp"><circle class="w" cx="366" cy="889" r="15"/><text x="365" y="894.5">amine metabolic process</text></g>
<g id="n-camp"><circle class="w" cx="681" cy="889" r="16"/><text x="680" y="885.5">cellular amine metabolic<tspan x="680" dy="16">process</tspan></text></g>
<g id="n-hmp"><circle class="w" cx="535" cy="908" r="14"/><text x="534" y="907.5">heterocycle metabolic<tspan x="534" dy="16">process</tspan></text></g>
<g id="n-gfm"><circle class="w" cx="893" cy="887" r="13"/><text x="890" y="885.5">glutamine family amino<tspan x="890" dy="16">acid metabolic process</tspan></text></g>
<g id="n-prm"><circle class="w" cx="963" cy="910" r="13"/><text x="964" y="914.5">proline metabolic process</text></g>
<g id="n-abp"><circle class="w" cx="630" cy="959" r="13"/><text x="630" y="963.5">amine biosynthetic process</text></g>
<g id="n-caab"><circle class="w" cx="778" cy="958" r="14"/><text x="778" y="955.5">cellular amino acid<tspan x="778" dy="16">biosynthetic process</tspan></text></g>
<g id="n-gfb"><circle class="w" cx="928" cy="957" r="12"/><text x="927" y="954.5">glutamine family amino<tspan x="927" dy="16">acid biosynthetic process</tspan></text></g>
<g id="n-prb"><circle class="y" cx="1085" cy="958" r="12"/><text x="1084" y="963.5">proline biosynthetic process</text></g>
<g id="n-smm"><circle class="lo" cx="254" cy="977" r="26"/><text x="253" y="974.5">small molecule metabolic<tspan x="253" dy="16">process</tspan></text></g>
<g id="n-oam"><circle class="o" cx="388" cy="982" r="22"/><text x="386" y="979.5">organic acid metabolic<tspan x="386" dy="16">process</tspan></text></g>
<g id="n-smb"><circle class="w" cx="479" cy="1010" r="16"/><text x="479" y="1009.5">small molecule biosynthetic<tspan x="479" dy="16">process</tspan></text></g>
<g id="n-cab"><circle class="w" cx="745" cy="998" r="12"/><text x="743" y="994.5">carboxylic acid biosynthetic<tspan x="743" dy="16">process</tspan></text></g>
<g id="n-oab"><circle class="w" cx="680" cy="1030" r="13"/><text x="680" y="1027.5">organic acid biosynthetic<tspan x="680" dy="16">process</tspan></text></g>
<g id="n-hb"><circle class="w" cx="857" cy="1020" r="12"/><text x="856" y="1017.5">heterocycle biosynthetic<tspan x="856" dy="16">process</tspan></text></g>
<g id="n-cncb"><circle class="w" cx="557" cy="1047" r="15"/><text x="556" y="1043.5">cellular nitrogen compound<tspan x="556" dy="16">biosynthetic process</tspan></text></g>
<g id="n-ncm"><circle class="o" cx="286" cy="1040" r="29"/><text x="283" y="1037.5">nitrogen compound<tspan x="283" dy="16">metabolic process</tspan></text></g>
<g id="n-mp"><circle class="o" cx="173" cy="1060" r="43"/><text x="173" y="1065.5">metabolic process</text></g>
<g id="n-cncm"><circle class="o" cx="383" cy="1085" r="30"/><text x="381" y="1082.5">cellular nitrogen compound<tspan x="381" dy="16">metabolic process</tspan></text></g>
<g id="n-bp2"><circle class="g2" cx="368" cy="1152" r="28"/><text x="368" y="1157.5">biosynthetic process</text></g>
<g id="n-pmp"><circle class="o" cx="253" cy="1176" r="39"/><text x="253" y="1181.5">primary metabolic process</text></g>
<g id="n-cbp"><circle class="g2" cx="512" cy="1115" r="27"/><text x="510" y="1112.5">cellular biosynthetic<tspan x="510" dy="16">process</tspan></text></g>
<g id="n-npm"><circle class="y" cx="724" cy="1078" r="16"/><text x="722" y="1075.5">nucleoside phosphate<tspan x="722" dy="16">metabolic process</tspan></text></g>
<g id="n-pnm"><circle class="y" cx="847" cy="1079" r="13"/><text x="845" y="1077.5">pyridine nucleotide<tspan x="845" dy="16">metabolic process</tspan></text></g>
<g id="n-nad"><circle class="w" cx="971" cy="1077" r="13"/><text x="971" y="1082.5">NAD metabolic process</text></g>
<g id="n-nadhm"><circle class="gy" cx="1085" cy="1110" r="13"/><text x="1085" y="1114.5">NADH metabolic process</text></g>
<g id="n-nnm"><circle class="y" cx="926" cy="1123" r="13"/><text x="924" y="1121.5">nicotinamide nucleotide<tspan x="924" dy="16">metabolic process</tspan></text></g>
<g id="n-nnn"><circle class="y" cx="661" cy="1122" r="17"/><text x="659" y="1110.5">nucleobase, nucleoside<tspan x="659" dy="16">and nucleotide metabolic</tspan><tspan x="659" dy="16">process</tspan></text></g>
<g id="n-ntm"><circle class="y" cx="793" cy="1122" r="17"/><text x="791" y="1118.5">nucleotide metabolic<tspan x="791" dy="16">process</tspan></text></g>
<g id="n-nnna"><circle class="lo" cx="493" cy="1178" r="27"/><text x="491" y="1167.5">nucleobase, nucleoside,<tspan x="491" dy="16">nucleotide and nucleic acid</tspan><tspan x="491" dy="16">metabolic process</tspan></text></g>
<g id="n-cmb"><circle class="y" cx="639" cy="1177" r="22"/><text x="638" y="1174.5">cellular macromolecule<tspan x="638" dy="16">biosynthetic process</tspan></text></g>
<g id="n-tl"><circle class="o" cx="832" cy="1205" r="19"/><text x="832" y="1210.5">translation</text></g>
<g id="n-tle"><circle class="y" cx="1085" cy="1178" r="15"/><text x="1084" y="1183.5">translational elongation</text></g>
<g id="n-dr"><circle class="w" cx="694" cy="1234" r="15"/><text x="693" y="1239.5">DNA replication</text></g>
<g id="n-ddr"><circle class="w" cx="930" cy="1236" r="13"/><text x="930" y="1231.5">DNA-dependent DNA<tspan x="930" dy="16">replication</tspan></text></g>
<g id="n-ddri"><circle class="y" cx="1085" cy="1236" r="12"/><text x="1083" y="1231.5">DNA-dependent DNA<tspan x="1083" dy="16">replication initiation</tspan></text></g>
<g id="n-mb"><circle class="y" cx="415" cy="1230" r="23"/><text x="415" y="1226.5">macromolecule<tspan x="415" dy="16">biosynthetic process</tspan></text></g>
<g id="n-nam"><circle class="gy" cx="517" cy="1267" r="25"/><text x="515" y="1262.5">nucleic acid metabolic<tspan x="515" dy="16">process</tspan></text></g>
<g id="n-cmm"><circle class="y" cx="389" cy="1308" r="31"/><text x="390" y="1304.5">cellular macromolecule<tspan x="390" dy="16">metabolic process</tspan></text></g>
<g id="n-dnam"><circle class="w" cx="651" cy="1282" r="18"/><text x="651" y="1287.5">DNA metabolic process</text></g>
<g id="n-rmod"><circle class="w" cx="783" cy="1287" r="12"/><text x="783" y="1292.5">RNA modification</text></g>
<g id="n-tmod"><circle class="y" cx="1084" cy="1274" r="13"/><text x="1084" y="1278.5">tRNA modification</text></g>
<g id="n-tmp"><circle class="w" cx="862" cy="1304" r="14"/><text x="862" y="1308.5">tRNA metabolic process</text></g>
<g id="n-ncm2"><circle class="w" cx="751" cy="1322" r="16"/><text x="750" y="1326.5">ncRNA metabolic process</text></g>
<g id="n-tp"><circle class="w" cx="955" cy="1339" r="14"/><text x="954" y="1343.5">tRNA processing</text></g>
<g id="n-rmp2"><circle class="y" cx="539" cy="1332" r="22"/><text x="539" y="1336.5">RNA metabolic process</text></g>
<g id="n-cpm"><circle class="w" cx="646" cy="1360" r="27"/><text x="645" y="1357.5">cellular protein metabolic<tspan x="645" dy="16">process</tspan></text></g>
<g id="n-prot"><circle class="w" cx="450" cy="1364" r="27"/><text x="452" y="1369.5">protein metabolic process</text></g>
<g id="n-mm"><circle class="y" cx="284" cy="1360" r="33"/><text x="282" y="1357.5">macromolecule metabolic<tspan x="282" dy="16">process</tspan></text></g>
<g id="n-mrm"><circle class="y" cx="833" cy="1368" r="18"/><text x="832" y="1372.5">mRNA metabolic process</text></g>
<g id="n-mrp"><circle class="y" cx="917" cy="1387" r="17"/><text x="916" y="1391.5">mRNA processing</text></g>
<g id="n-nms"><circle class="g" cx="1084" cy="1390" r="16"/><text x="1082" y="1386.5">nuclear mRNA splicing, via<tspan x="1082" dy="16">spliceosome</tspan></text></g>
<g id="n-ncp"><circle class="w" cx="726" cy="1400" r="15"/><text x="726" y="1405.5">ncRNA processing</text></g>
<g id="n-ge"><circle class="o" cx="416" cy="1439" r="26"/><text x="416" y="1444.5">gene expression</text></g>
<g id="n-rp"><circle class="g" cx="576" cy="1439" r="20"/><text x="576" y="1444.5">RNA processing</text></g>
<g id="n-rsp"><circle class="y" cx="671" cy="1439" r="17"/><text x="670" y="1444.5">RNA splicing</text></g>
<g id="n-rst2"><circle class="g" cx="790" cy="1438" r="15"/><text x="788" y="1435.5">RNA splicing, via<tspan x="788" dy="16">transesterification reactions</tspan></text></g>
<g id="n-rsb"><circle class="g" cx="957" cy="1439" r="16"/><text x="955" y="1419.5">RNA splicing, via<tspan x="955" dy="16">transesterification reactions</tspan><tspan x="955" dy="16">with bulged adenosine as</tspan><tspan x="955" dy="16">nucleophile</tspan></text></g>
<g id="n-ccb"><circle class="w" cx="134" cy="1464" r="22"/><text x="132" y="1460.5">cellular component<tspan x="132" dy="16">biogenesis</tspan></text></g>
<g id="n-cca"><circle class="w" cx="389" cy="1479" r="20"/><text x="386" y="1477.5">cellular component<tspan x="386" dy="16">assembly</tspan></text></g>
<g id="n-mca"><circle class="w" cx="527" cy="1479" r="19"/><text x="526" y="1477.5">macromolecular complex<tspan x="526" dy="16">assembly</tspan></text></g>
<g id="n-rnpb"><circle class="y" cx="862" cy="1484" r="18"/><text x="860" y="1481.5">ribonucleoprotein complex<tspan x="860" dy="16">biogenesis</tspan></text></g>
<g id="n-cco"><circle class="w" cx="161" cy="1528" r="26"/><text x="159" y="1524.5">cellular component<tspan x="159" dy="16">organization</tspan></text></g>
<g id="n-mcso"><circle class="w" cx="399" cy="1527" r="19"/><text x="403" y="1524.5">macromolecular complex<tspan x="403" dy="16">subunit organization</tspan></text></g>
<g id="n-cmcso"><circle class="y" cx="575" cy="1528" r="17"/><text x="572" y="1516.5">cellular macromolecular<tspan x="572" dy="16">complex subunit</tspan><tspan x="572" dy="16">organization</tspan></text></g>
<g id="n-cmca"><circle class="y" cx="810" cy="1527" r="17"/><text x="808" y="1524.5">cellular macromolecular<tspan x="808" dy="16">complex assembly</tspan></text></g>
<g id="n-rnpa"><circle class="y" cx="1084" cy="1528" r="15"/><text x="1083" y="1524.5">ribonucleoprotein complex<tspan x="1083" dy="16">assembly</tspan></text></g>
<g id="brackets">
<path class="br" d="M1164,29V116M1157,29H1171M1157,116H1171"/>
<path class="br" d="M1164,131V1138M1157,131H1171M1157,1138H1171"/>
<path class="br" d="M1164,1160V1547M1157,1160H1171M1157,1547H1171"/>
<text class="bt" transform="translate(1189,72) rotate(-90)">Response</text>
<text class="bt" transform="translate(1221,72) rotate(-90)">to stress</text>
<text class="bt" transform="translate(1190,632) rotate(-90)">Metabolism</text>
<text class="bt" transform="translate(1218,632) rotate(-90)">(aerobic)</text>
<text class="bt" transform="translate(1189,1352) rotate(-90)">Gene</text>
<text class="bt" transform="translate(1219,1352) rotate(-90)">expression</text>
</g>
<g id="legend">
<text class="lg" x="838" y="1581" style="text-anchor:start">non significant</text>
<text class="lg" x="1155" y="1581" style="text-anchor:end">very significant</text>
<rect x="838" y="1589" width="318" height="24" fill="url(#pv)" stroke="#111" stroke-width="2"/>
<text class="lg" x="997" y="1607">P value</text>
</g>
<text x="22" y="1648" style="text-anchor:start;font-size:19px;fill:#231f20"><tspan font-weight="bold">Fig. 5</tspan> (See legend on next page.)</text>
</svg>
